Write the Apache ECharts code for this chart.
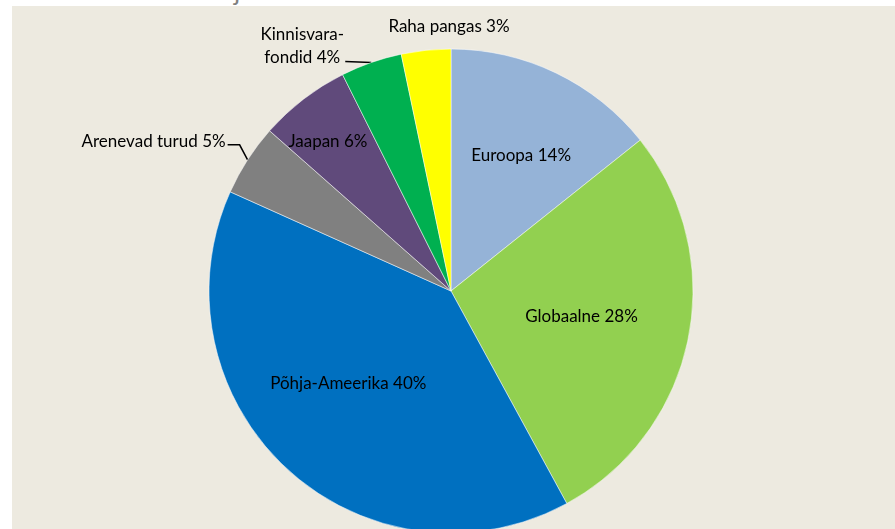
<!DOCTYPE html>
<html>
<head>
<meta charset="utf-8">
<script src="https://cdn.jsdelivr.net/npm/echarts@6/dist/echarts.min.js"></script>
<style>
    html, body { margin: 0; padding: 0; background: #ffffff; }
    #wrap { position: relative; width: 895px; height: 529px; overflow: hidden; }
    #cut { position: absolute; left: 234px; top: -23px; font: 26px/26px Lato, sans-serif; color: #808080; }
    #chart { position: absolute; left: 12px; top: 6px; width: 883px; height: 523px; background: #edeae0; }
</style>
</head>
<body>
<div id="wrap">
    <div id="cut">j</div>
    <div id="chart"></div>
</div>
<script>
// 数据
const categories = ['Euroopa', 'Globaalne', 'Põhja-Ameerika', 'Arenevad turud', 'Jaapan', 'Kinnisvara-\nfondid', 'Raha pangas'];
const shares = [14.3, 27.8, 39.7, 4.8, 6.1, 4.1, 3.3];
const percentLabels = ['14%', '28%', '40%', '5%', '6%', '4%', '3%'];
const sliceColors = ['#95b3d7', '#92d050', '#0070c0', '#808080', '#604a7b', '#00b050', '#ffff00'];

// 标签位置 (内部: 半径比例 + 微调; 外部: 相对于扇区边缘的偏移)
const labelPlacement = [
    { inside: true, rf: 0.63, dx: 4, dy: 2 },
    { inside: true, rf: 0.55, dx: 0, dy: -1 },
    { inside: true, rf: 0.57, dx: -9, dy: -9 },
    { inside: false, dx: -22, dy: -18, align: 'right', line: [[-8, -15], [-20, -15]] },
    { inside: true, rf: 0.80, dx: -5, dy: 4 },
    { inside: false, dx: -69, dy: -17, align: 'center', line: [[-26, -1]] },
    { inside: false, dx: 23, dy: -24, align: 'center', line: null }
];

const center = [439, 285];
const radius = 242;

const chart = echarts.init(document.getElementById('chart'));

const total = shares.reduce((a, b) => a + b, 0);
const midAngles = [];
let acc = 0;
shares.forEach(v => {
    midAngles.push((acc + v / 2) / total * Math.PI * 2);
    acc += v;
});

function polar(angle, r) {
    return [center[0] + r * Math.sin(angle), center[1] - r * Math.cos(angle)];
}

const option = {
    backgroundColor: '#edeae0',
    animation: false,
    series: [
        {
            type: 'pie',
            center: center,
            radius: radius,
            startAngle: 90,
            clockwise: true,
            avoidLabelOverlap: false,
            itemStyle: {
                borderColor: '#ffffff',
                borderWidth: 0.5
            },
            label: {
                show: true,
                position: 'outside',
                color: '#000000',
                fontFamily: 'Lato',
                fontSize: 17,
                lineHeight: 23,
                formatter: p => p.name + ' ' + percentLabels[p.dataIndex]
            },
            labelLine: {
                show: true,
                lineStyle: { color: '#000000', width: 1.5 }
            },
            labelLayout: function (params) {
                const i = params.dataIndex;
                const cfg = labelPlacement[i];
                if (cfg.inside) {
                    const p = polar(midAngles[i], radius * cfg.rf);
                    return { x: p[0] + cfg.dx, y: p[1] + cfg.dy, align: 'center', verticalAlign: 'middle' };
                }
                const e = polar(midAngles[i], radius);
                const res = {
                    x: e[0] + cfg.dx,
                    y: e[1] + cfg.dy,
                    align: cfg.align,
                    verticalAlign: 'middle'
                };
                if (cfg.line) {
                    res.labelLinePoints = [e].concat(cfg.line.map(d => [e[0] + d[0], e[1] + d[1]]));
                }
                return res;
            },
            data: categories.map((name, i) => ({
                name: name,
                value: shares[i],
                itemStyle: { color: sliceColors[i] },
                labelLine: { show: !!(labelPlacement[i].line) }
            }))
        }
    ]
};

chart.setOption(option);
</script>
</body>
</html>
